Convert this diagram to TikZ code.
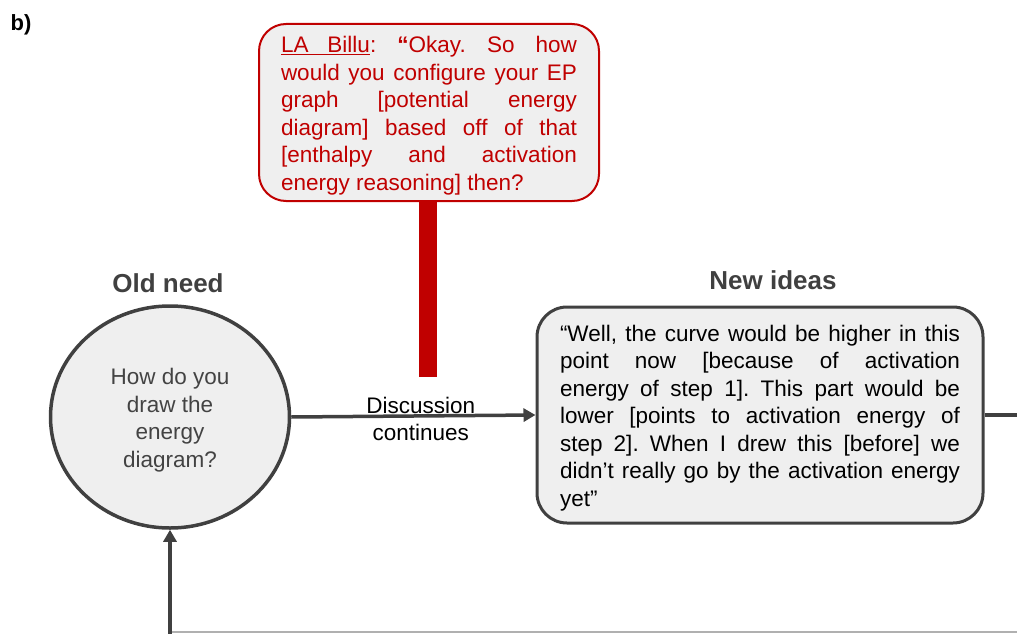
\documentclass[tikz,border=0pt]{standalone}
\usepackage{fontspec}
\setmainfont{Liberation Sans}
\usetikzlibrary{shapes.geometric,arrows.meta}
\definecolor{myred}{HTML}{C00000}
\definecolor{dgray}{HTML}{404040}
\definecolor{lgray}{HTML}{EFEFEF}
\definecolor{tgray}{HTML}{434343}
\definecolor{bgray}{HTML}{B0B0B0}
\hyphenpenalty=10000
\tolerance=9999
\frenchspacing
\newcommand{\topstrut}{\rule{0pt}{22.4pt}}
\begin{document}
\begin{tikzpicture}[x=1pt,y=-1pt,
  txt/.style={font=\fontsize{22.5}{27.5}\selectfont},
  title/.style={font=\fontsize{26}{30}\selectfont\bfseries, text=dgray},
  redbox/.style={draw=myred, line width=2pt, fill=lgray, rounded corners=27pt,
    text=myred, txt, text width=296pt, align=justify, inner xsep=22pt,
    minimum width=340pt, minimum height=177pt},
  ideabox/.style={draw=dgray, line width=3pt, fill=lgray, rounded corners=30pt,
    text=black, txt, text width=400pt, align=justify, inner xsep=23pt,
    minimum width=446pt, minimum height=216pt},
  needcirc/.style={ellipse, draw=dgray, line width=3.5pt, fill=lgray, text=tgray,
    txt, align=center, minimum width=239pt, minimum height=222pt, inner sep=0pt},
  conn/.style={draw=dgray, line width=3.5pt},
  arr/.style={conn, -{Triangle[length=12pt,width=13pt]}},
]
\useasboundingbox (0,0) rectangle (1017,634);

\node[font=\fontsize{22}{26}\selectfont\bfseries] (lbl) at (21,25) {b)};

\node[redbox] (la) at (429,112.5) {\noindent\hbox to\linewidth{\topstrut\underline{\hbox to 89pt{LA\hfil Billu}}:\hfil{\bfseries “}Okay.\hfil So\hfil how}\par\noindent would you configure your EP\linebreak graph [potential energy\linebreak diagram] based off of that\linebreak{}[enthalpy and activation\linebreak energy reasoning] then?};

\node[title] (oldt) at (168,283) {Old need};
\node[title] (newt) at (773,280) {New ideas};

\node[needcirc] (need) at (170,417) {\topstrut How do you\\draw the\\energy\\diagram?};

\node[ideabox] (idea) at (760,415) {\topstrut“Well, the curve would be higher in this\linebreak point now [because of activation\linebreak energy of step 1]. This part would be\linebreak lower [points to activation energy of\linebreak step 2]. When I drew this [before] we\linebreak didn’t really go by the activation energy\linebreak yet”};

\coordinate (barend) at (428,377);
\coordinate (rightend) at (1017,415);
\coordinate (bottomleft) at (170,634);
\coordinate (glstart) at (170,632);
\coordinate (glend) at (1017,632);

\draw[myred, line width=18pt] (la.south -| barend) -- (barend);

\draw[arr] (need.east) -- (idea.west)
  node[pos=0.53, txt, align=center, text=black, inner sep=0pt] (disc) {\topstrut Discussion\\continues};

\draw[conn] (idea.east) -- (rightend);
\draw[bgray, line width=1.5pt] (glstart) -- (glend);
\draw[arr] (bottomleft) -- (need.south);
\end{tikzpicture}
\end{document}
